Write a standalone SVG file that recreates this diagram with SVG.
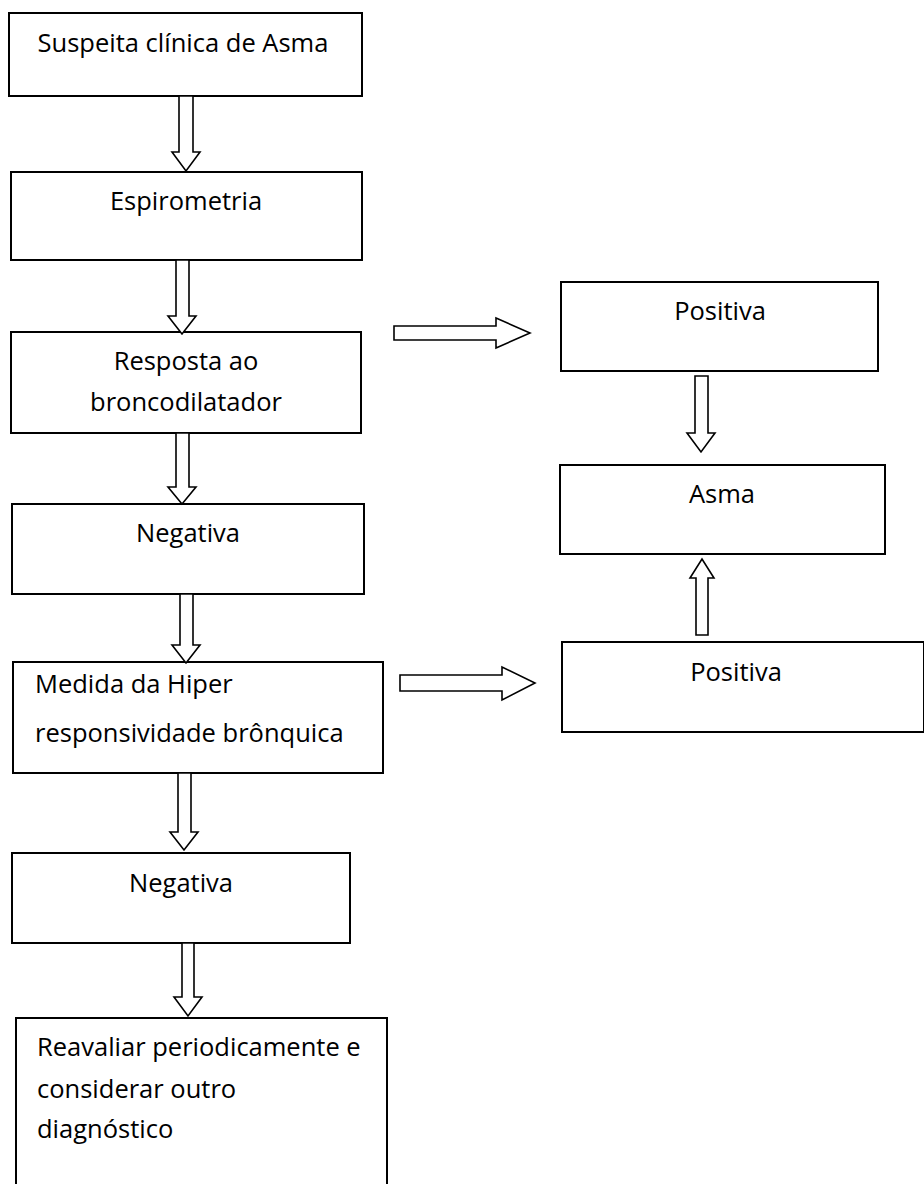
<svg xmlns="http://www.w3.org/2000/svg" width="924" height="1184" viewBox="0 0 924 1184">
<style>
.box{fill:#fff;stroke:#000;stroke-width:2}
.arr{fill:#fff;stroke:#000;stroke-width:1.6;stroke-linejoin:miter}
text{font-family:"Open Sans","Liberation Sans",sans-serif;font-size:25.5px;fill:#000}
.c{text-anchor:middle}
</style>
<rect width="924" height="1184" fill="#fff"/>
<g id="n1"><rect class="box" x="9" y="13" width="353" height="83"/><text class="c" x="183" y="52">Suspeita clínica de Asma</text></g>
<g id="n2"><rect class="box" x="11" y="172" width="351" height="88"/><text class="c" x="186" y="210">Espirometria</text></g>
<g id="n3"><rect class="box" x="11" y="332" width="350" height="101"/><text class="c" x="186" y="370">Resposta ao</text><text class="c" x="186" y="411">broncodilatador</text></g>
<g id="n4"><rect class="box" x="12" y="504" width="352" height="90"/><text class="c" x="188" y="542">Negativa</text></g>
<g id="n5"><rect class="box" x="13" y="662" width="370" height="111"/><text x="35" y="693">Medida da Hiper</text><text x="35" y="742">responsividade brônquica</text></g>
<g id="n6"><rect class="box" x="12" y="853" width="338" height="90"/><text class="c" x="181" y="892">Negativa</text></g>
<g id="n7"><rect class="box" x="16" y="1018" width="371" height="180"/><text x="37" y="1056">Reavaliar periodicamente e</text><text x="37" y="1098">considerar outro</text><text x="37" y="1138">diagnóstico</text></g>
<g id="n8"><rect class="box" x="561" y="282" width="317" height="89"/><text class="c" x="720" y="320">Positiva</text></g>
<g id="n9"><rect class="box" x="560" y="465" width="325" height="89"/><text class="c" x="722" y="503">Asma</text></g>
<g id="n10"><rect class="box" x="562" y="642" width="362" height="90"/><text class="c" x="736" y="681">Positiva</text></g>
<g id="connectors">
<polygon class="arr" points="179,96 193,96 193,152 200,152 186,171 172,152 179,152"/>
<polygon class="arr" points="176,260 189,260 189,316 196,316 182,334 168,316 176,316"/>
<polygon class="arr" points="176,433 189,433 189,487 196,487 182,504 168,487 176,487"/>
<polygon class="arr" points="180,594 193,594 193,645 200,645 186,663 172,645 180,645"/>
<polygon class="arr" points="178,773 191,773 191,832 198,832 184,850 170,832 178,832"/>
<polygon class="arr" points="182,943 194,943 194,997 202,997 188,1016 174,997 182,997"/>
<polygon class="arr" points="394,326 496,326 496,318 530,333 496,348 496,340 394,340"/>
<polygon class="arr" points="400,675 502,675 502,667 535,683 502,700 502,691 400,691"/>
<polygon class="arr" points="695,376 708,376 708,433 715,433 701,452 687,433 695,433"/>
<polygon class="arr" points="696,635 708,635 708,578 714,578 702,559 690,578 696,578"/>
</g>
</svg>
